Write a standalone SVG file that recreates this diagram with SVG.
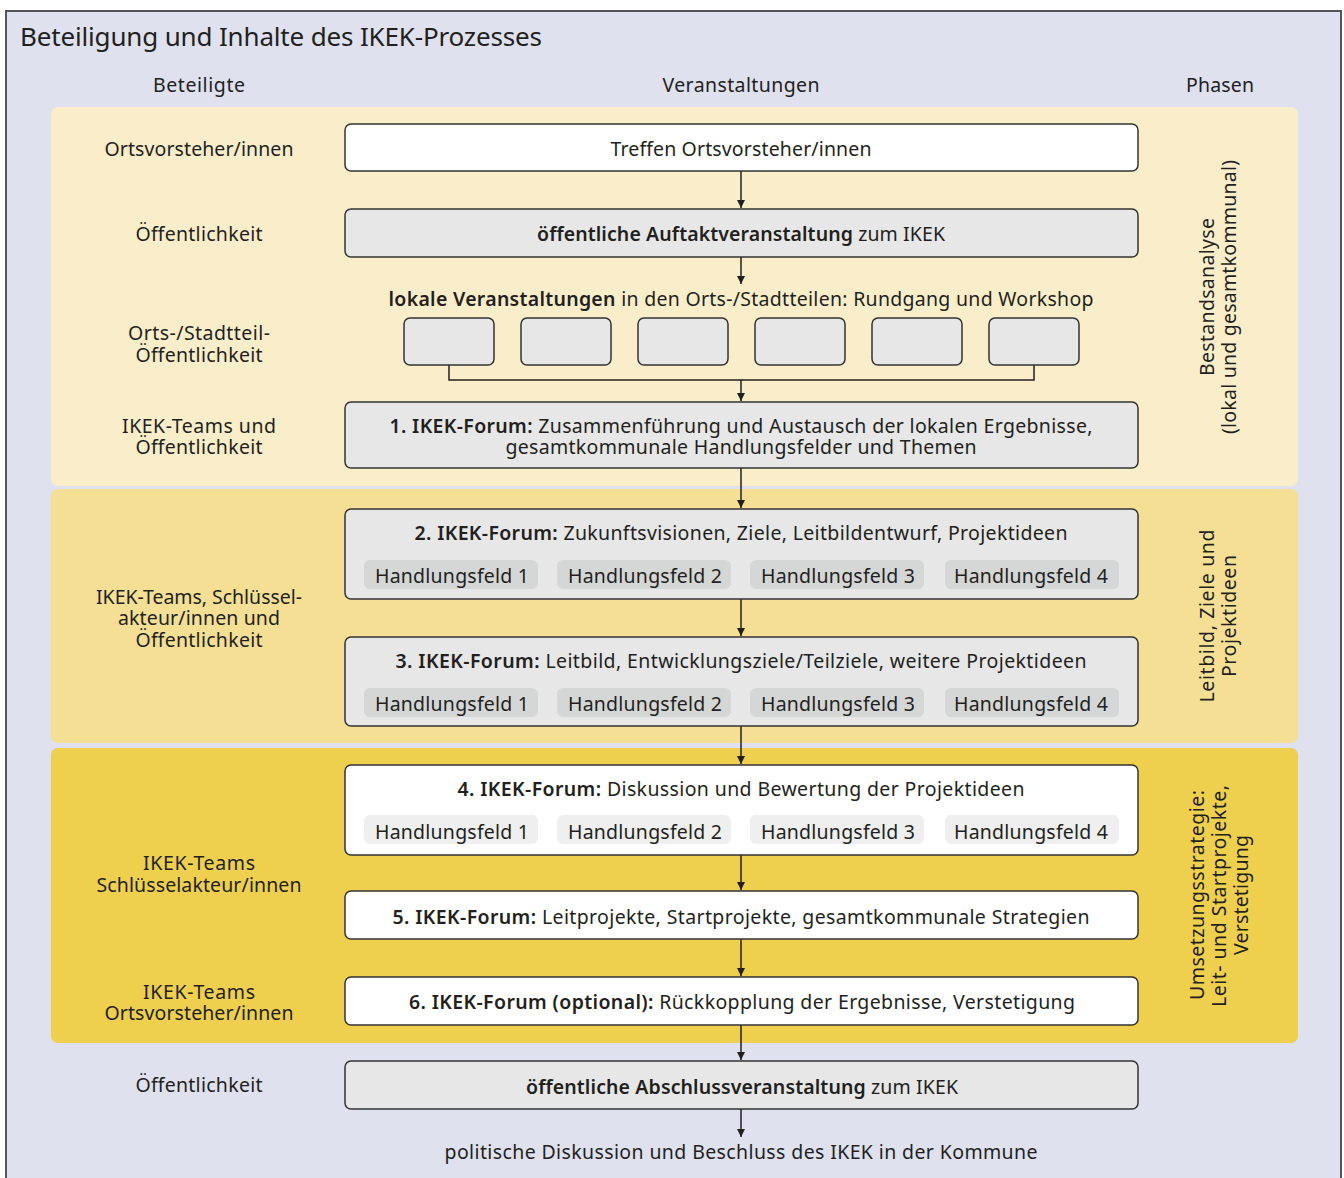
<svg xmlns="http://www.w3.org/2000/svg" width="1344" height="1178" viewBox="0 0 1344 1178">
<defs>
<style>
text{font-family:"Noto Sans","Open Sans","Liberation Sans",sans-serif;fill:#231f20;font-size:19.5px}
.c{text-anchor:middle}
.b{font-weight:600}
.box{stroke:#333;stroke-width:1.5}
.w{fill:#fff}
.g{fill:#e6e7e6}
.pg{fill:#d5d6d6}
.pw{fill:#eeefee}
.con{stroke:#231f20;stroke-width:1.5;fill:none}
</style>
<marker id="ah" viewBox="0 0 10 10" refX="10" refY="5" markerWidth="8" markerHeight="8" markerUnits="userSpaceOnUse" orient="auto">
<path d="M0,0 L10,5 L0,10 z" fill="#231f20"/>
</marker>
</defs>
<rect x="6" y="11" width="1335" height="1180" fill="#dfe1ef" stroke="#555" stroke-width="2"/>
<text x="20" y="46" style="font-size:26px" textLength="522">Beteiligung und Inhalte des IKEK-Prozesses</text>
<text class="c" x="199" y="92" textLength="92">Beteiligte</text>
<text class="c" x="741" y="92" textLength="157">Veranstaltungen</text>
<text class="c" x="1220" y="92" textLength="68">Phasen</text>

<g id="bands">
<rect x="51" y="107" width="1247" height="379" rx="7" fill="#faeeca"/>
<rect x="51" y="489" width="1247" height="254" rx="7" fill="#f5df94"/>
<rect x="51" y="748" width="1247" height="295" rx="7" fill="#efcf4e"/>
</g>

<g id="participants">
<text class="c" x="199" y="156" textLength="189">Ortsvorsteher/innen</text>
<text class="c" x="199" y="241" textLength="127">Öffentlichkeit</text>
<text class="c" x="199" y="340" textLength="142">Orts-/Stadtteil-</text>
<text class="c" x="199" y="362" textLength="127">Öffentlichkeit</text>
<text class="c" x="199" y="433" textLength="154">IKEK-Teams und</text>
<text class="c" x="199" y="454" textLength="127">Öffentlichkeit</text>
<text class="c" x="199" y="604" textLength="206">IKEK-Teams, Schlüssel-</text>
<text class="c" x="199" y="625" textLength="162">akteur/innen und</text>
<text class="c" x="199" y="647" textLength="127">Öffentlichkeit</text>
<text class="c" x="199" y="870" textLength="112">IKEK-Teams</text>
<text class="c" x="199" y="892" textLength="205">Schlüsselakteur/innen</text>
<text class="c" x="199" y="999" textLength="112">IKEK-Teams</text>
<text class="c" x="199" y="1020" textLength="189">Ortsvorsteher/innen</text>
<text class="c" x="199" y="1092" textLength="127">Öffentlichkeit</text>
</g>

<g id="phases">
<text class="c" transform="translate(1214,297) rotate(-90)" textLength="158">Bestandsanalyse</text>
<text class="c" transform="translate(1236,297) rotate(-90)" textLength="274">(lokal und gesamtkommunal)</text>
<text class="c" transform="translate(1214,616) rotate(-90)" textLength="173">Leitbild, Ziele und</text>
<text class="c" transform="translate(1236,616) rotate(-90)" textLength="122">Projektideen</text>
<text class="c" transform="translate(1204,895) rotate(-90)" textLength="210">Umsetzungsstrategie:</text>
<text class="c" transform="translate(1226,896) rotate(-90)" textLength="222">Leit- und Startprojekte,</text>
<text class="c" transform="translate(1248,895) rotate(-90)" textLength="120">Verstetigung</text>
</g>

<g id="connectors">
<path class="con" d="M741,171 V208" marker-end="url(#ah)"/>
<path class="con" d="M741,257 V284" marker-end="url(#ah)"/>
<path class="con" d="M449,365 V380 H1034 V365"/>
<path class="con" d="M741,380 V401" marker-end="url(#ah)"/>
<path class="con" d="M741,468 V508" marker-end="url(#ah)"/>
<path class="con" d="M741,599 V636" marker-end="url(#ah)"/>
<path class="con" d="M741,726 V764" marker-end="url(#ah)"/>
<path class="con" d="M741,855 V890" marker-end="url(#ah)"/>
<path class="con" d="M741,939 V976" marker-end="url(#ah)"/>
<path class="con" d="M741,1025 V1060" marker-end="url(#ah)"/>
<path class="con" d="M741,1109 V1137" marker-end="url(#ah)"/>
</g>

<g id="n1">
<rect class="box w" x="345" y="124" width="793" height="47" rx="6"/>
<text class="c" x="741" y="156" textLength="261">Treffen Ortsvorsteher/innen</text>
</g>
<g id="n2">
<rect class="box g" x="345" y="209" width="793" height="48" rx="6"/>
<text class="c" x="741" y="241" textLength="408"><tspan class="b">öffentliche Auftaktveranstaltung</tspan> zum IKEK</text>
</g>
<g id="n3">
<text class="c" x="741" y="306" textLength="705"><tspan class="b">lokale Veranstaltungen</tspan> in den Orts-/Stadtteilen: Rundgang und Workshop</text>
</g>
<g id="local1"><rect class="box g" x="404" y="318" width="90" height="47" rx="6"/></g>
<g id="local2"><rect class="box g" x="521" y="318" width="90" height="47" rx="6"/></g>
<g id="local3"><rect class="box g" x="638" y="318" width="90" height="47" rx="6"/></g>
<g id="local4"><rect class="box g" x="755" y="318" width="90" height="47" rx="6"/></g>
<g id="local5"><rect class="box g" x="872" y="318" width="90" height="47" rx="6"/></g>
<g id="local6"><rect class="box g" x="989" y="318" width="90" height="47" rx="6"/></g>

<g id="forum1">
<rect class="box g" x="345" y="402" width="793" height="66" rx="6"/>
<text class="c" x="741" y="433" textLength="703"><tspan class="b">1. IKEK-Forum:</tspan> Zusammenführung und Austausch der lokalen Ergebnisse,</text>
<text class="c" x="741" y="454" textLength="471">gesamtkommunale Handlungsfelder und Themen</text>
</g>

<g id="forum2">
<rect class="box g" x="345" y="509" width="793" height="90" rx="6"/>
<text class="c" x="741" y="540" textLength="653"><tspan class="b">2. IKEK-Forum:</tspan> Zukunftsvisionen, Ziele, Leitbildentwurf, Projektideen</text>
<rect class="pg" x="364" y="560" width="174" height="29" rx="6"/>
<rect class="pg" x="557" y="560" width="174" height="29" rx="6"/>
<rect class="pg" x="750" y="560" width="174" height="29" rx="6"/>
<rect class="pg" x="945" y="560" width="174" height="29" rx="6"/>
<text class="c" x="452" y="583" textLength="154">Handlungsfeld 1</text>
<text class="c" x="645" y="583" textLength="154">Handlungsfeld 2</text>
<text class="c" x="838" y="583" textLength="154">Handlungsfeld 3</text>
<text class="c" x="1031" y="583" textLength="154">Handlungsfeld 4</text>
</g>

<g id="forum3">
<rect class="box g" x="345" y="637" width="793" height="89" rx="6"/>
<text class="c" x="741" y="668" textLength="691"><tspan class="b">3. IKEK-Forum:</tspan> Leitbild, Entwicklungsziele/Teilziele, weitere Projektideen</text>
<rect class="pg" x="364" y="688" width="174" height="29" rx="6"/>
<rect class="pg" x="557" y="688" width="174" height="29" rx="6"/>
<rect class="pg" x="750" y="688" width="174" height="29" rx="6"/>
<rect class="pg" x="945" y="688" width="174" height="29" rx="6"/>
<text class="c" x="452" y="711" textLength="154">Handlungsfeld 1</text>
<text class="c" x="645" y="711" textLength="154">Handlungsfeld 2</text>
<text class="c" x="838" y="711" textLength="154">Handlungsfeld 3</text>
<text class="c" x="1031" y="711" textLength="154">Handlungsfeld 4</text>
</g>

<g id="forum4">
<rect class="box w" x="345" y="765" width="793" height="90" rx="6"/>
<text class="c" x="741" y="796" textLength="567"><tspan class="b">4. IKEK-Forum:</tspan> Diskussion und Bewertung der Projektideen</text>
<rect class="pw" x="364" y="815" width="174" height="29" rx="6"/>
<rect class="pw" x="557" y="815" width="174" height="29" rx="6"/>
<rect class="pw" x="750" y="815" width="174" height="29" rx="6"/>
<rect class="pw" x="945" y="815" width="174" height="29" rx="6"/>
<text class="c" x="452" y="839" textLength="154">Handlungsfeld 1</text>
<text class="c" x="645" y="839" textLength="154">Handlungsfeld 2</text>
<text class="c" x="838" y="839" textLength="154">Handlungsfeld 3</text>
<text class="c" x="1031" y="839" textLength="154">Handlungsfeld 4</text>
</g>

<g id="forum5">
<rect class="box w" x="345" y="891" width="793" height="48" rx="6"/>
<text class="c" x="741" y="924" textLength="697"><tspan class="b">5. IKEK-Forum:</tspan> Leitprojekte, Startprojekte, gesamtkommunale Strategien</text>
</g>

<g id="forum6">
<rect class="box w" x="345" y="977" width="793" height="48" rx="6"/>
<text class="c" x="742" y="1009" textLength="666"><tspan class="b">6. IKEK-Forum (optional):</tspan> Rückkopplung der Ergebnisse, Verstetigung</text>
</g>

<g id="final">
<rect class="box g" x="345" y="1061" width="793" height="48" rx="6"/>
<text class="c" x="742" y="1094" textLength="432"><tspan class="b">öffentliche Abschlussveranstaltung</tspan> zum IKEK</text>
</g>

<g id="decision">
<text class="c" x="741" y="1159" textLength="593">politische Diskussion und Beschluss des IKEK in der Kommune</text>
</g>
</svg>
